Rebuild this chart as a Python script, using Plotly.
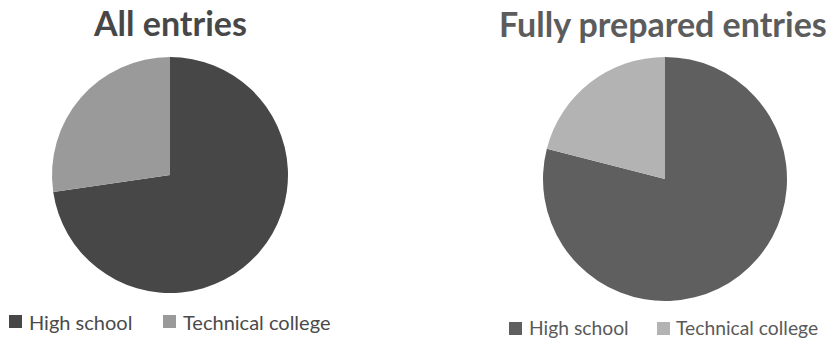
import plotly.graph_objects as go

categories = ["High school", "Technical college"]
all_entries = [72.7, 27.3]
fully_prepared = [79.0, 21.0]
titles = ["All entries", "Fully prepared entries"]

W, H = 831, 340
FONT = "Lato"
left_colors = ["#474747", "#9a9a9a"]
right_colors = ["#5f5f5f", "#b3b3b3"]

fig = go.Figure()
fig.add_trace(go.Pie(
    name=titles[0], labels=categories, values=all_entries, sort=False, direction="clockwise",
    rotation=0, textinfo="none", hoverinfo="label+percent", showlegend=False,
    marker=dict(colors=left_colors, line=dict(width=0)),
    domain=dict(x=[52 / W, 288 / W], y=[(H - 293) / H, (H - 57) / H]),
))
fig.add_trace(go.Pie(
    name=titles[1], labels=categories, values=fully_prepared, sort=False, direction="clockwise",
    rotation=0, textinfo="none", hoverinfo="label+percent", showlegend=False,
    marker=dict(colors=right_colors, line=dict(width=0)),
    domain=dict(x=[543 / W, 787 / W], y=[(H - 301) / H, (H - 57) / H]),
))

def py(v):
    return (H - v) / H

def px(v):
    return v / W

shapes = []
annotations = []

# legend for each pie: (square x0, text x0) per item, square y range, text centre y, font size, colour
legend_specs = [
    dict(colors=left_colors, sq_x=[9, 163], txt_x=[28, 182], sq_y=(315, 328), txt_y=321.5,
         size=20, color="#4a4a4a"),
    dict(colors=right_colors, sq_x=[509, 657], txt_x=[528, 675], sq_y=(322, 335), txt_y=327.3,
         size=19.3, color="#5a5a5a"),
]
for spec in legend_specs:
    for i, cat in enumerate(categories):
        x0 = spec["sq_x"][i]
        shapes.append(dict(type="rect", xref="paper", yref="paper",
                           x0=px(x0), x1=px(x0 + 13), y0=py(spec["sq_y"][1]), y1=py(spec["sq_y"][0]),
                           fillcolor=spec["colors"][i], line=dict(width=0)))
        annotations.append(dict(text=cat, xref="paper", yref="paper",
                                x=px(spec["txt_x"][i]), y=py(spec["txt_y"]),
                                xanchor="left", yanchor="middle", showarrow=False, borderpad=0,
                                font=dict(family=FONT, size=spec["size"], color=spec["color"])))

annotations.append(dict(text="<b>" + titles[0] + "</b>", x=px(170), y=py(22.5), xref="paper", yref="paper",
                        showarrow=False, xanchor="center", yanchor="middle",
                        font=dict(family=FONT, size=34, color="#474747")))
annotations.append(dict(text="<b>" + titles[1] + "</b>", x=px(663), y=py(24), xref="paper", yref="paper",
                        showarrow=False, xanchor="center", yanchor="middle",
                        font=dict(family=FONT, size=34, color="#5c5c5c")))

fig.update_layout(
    width=W, height=H,
    margin=dict(l=0, r=0, t=0, b=0),
    paper_bgcolor="white", plot_bgcolor="white",
    font=dict(family=FONT),
    showlegend=False,
    shapes=shapes,
    annotations=annotations,
)

fig.write_html("out.html")
